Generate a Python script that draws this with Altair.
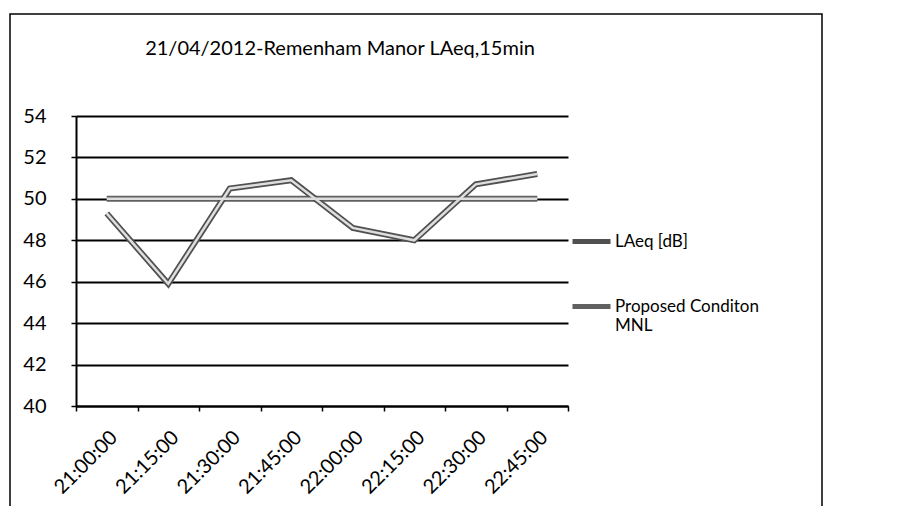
import altair as alt
import pandas as pd

times = ["21:00:00", "21:15:00", "21:30:00", "21:45:00",
         "22:00:00", "22:15:00", "22:30:00", "22:45:00"]
laeq = [49.3, 45.9, 50.5, 50.9, 48.6, 48.0, 50.7, 51.2]
mnl = [50.0, 50.0, 50.0, 50.0, 50.0, 50.0, 50.0, 50.0]
series = ["LAeq [dB]", "Proposed Conditon MNL"]
y_ticks = [40, 42, 44, 46, 48, 50, 52, 54]
title_text = "21/04/2012-Remenham Manor LAeq,15min"

rows = []
for t, a, b in zip(times, laeq, mnl):
    rows.append({"time": t, "series": series[1], "value": b})
    rows.append({"time": t, "series": series[0], "value": a})
df = pd.DataFrame(rows)

FONT = "Lato"

x_enc = alt.X(
    "time:O", sort=times, title=None, bandPosition=0.5,
    scale=alt.Scale(type="band", paddingInner=0, paddingOuter=0),
    axis=alt.Axis(tickBand="extent", labelAngle=-45, labelAlign="right",
                  labelBaseline="top", labelFontSize=20, labelFont=FONT,
                  labelColor="black", domainColor="black", domainWidth=2,
                  tickColor="black", tickWidth=1.5, tickSize=5, labelPadding=16),
)
y_enc = alt.Y(
    "value:Q", title=None,
    scale=alt.Scale(domain=[40, 54], nice=False, zero=False),
    axis=alt.Axis(values=y_ticks, grid=True, gridColor="black", gridWidth=2,
                  domainColor="black", domainWidth=2, tickColor="black",
                  tickWidth=1.5, tickSize=5, labelFontSize=20, labelFont=FONT,
                  labelColor="black", labelPadding=25),
)

base = alt.Chart(df)

outer = base.mark_line(strokeWidth=6).encode(
    x=x_enc, y=y_enc,
    color=alt.Color("series:N", sort=series,
                    scale=alt.Scale(domain=series, range=["#505050", "#606060"]),
                    legend=alt.Legend(
                        orient="none", legendX=494, legendY=104, title=None,
                        symbolType="stroke", symbolSize=1444, symbolStrokeWidth=5,
                        labelFont=FONT, labelFontSize=17, labelColor="black",
                        rowPadding=33, labelOffset=2, labelBaseline="middle",
                        labelExpr="datum.label == 'Proposed Conditon MNL' ? ['Proposed Conditon', 'MNL'] : datum.label",
                    )),
)
inner = base.mark_line(strokeWidth=2.5).encode(
    x=x_enc, y=y_enc,
    detail="series:N",
    stroke=alt.value("#dedede"),
)

frame = alt.Chart(pd.DataFrame({"f": [0]})).mark_rect(
    fill="transparent", stroke="black", strokeWidth=1.5
).encode(x=alt.value(-66), x2=alt.value(746), y=alt.value(-102), y2=alt.value(402))

chart = alt.layer(outer, inner, frame).properties(
    width=492, height=290,
    padding={"left": 68, "top": 108, "right": 300, "bottom": 100},
    autosize="none",
    title=alt.TitleParams(title_text, fontSize=20, font=FONT, fontWeight="normal",
                          color="black", anchor="middle", dx=18, offset=-46),
).configure_view(stroke=None)

chart.save("out.html", embed_options={"renderer": "svg", "actions": False})
